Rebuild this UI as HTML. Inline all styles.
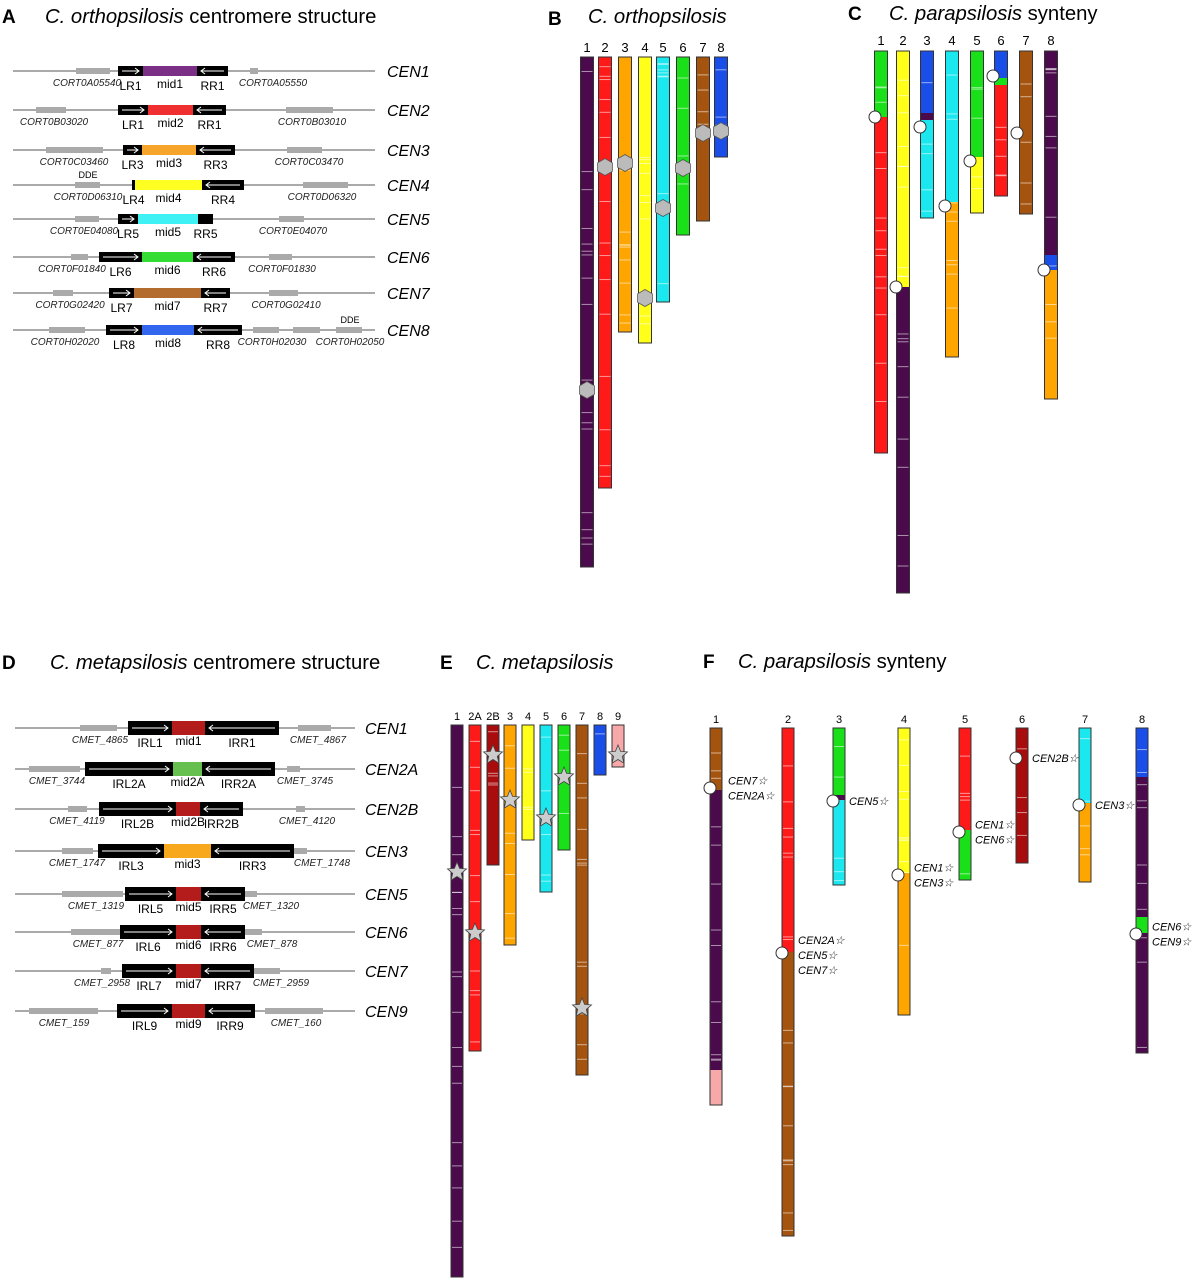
<!DOCTYPE html>
<html><head><meta charset="utf-8"><style>
body{margin:0;background:#fff}
svg{display:block;font-family:"Liberation Sans",Arial,sans-serif}
</style></head><body>
<svg id="fig" width="1199" height="1280" viewBox="0 0 1199 1280" xmlns="http://www.w3.org/2000/svg">
<g>
<text x="2" y="23" font-size="19" font-weight="bold">A</text>
<text x="45" y="23" font-size="20.3"><tspan font-style="italic">C. orthopsilosis</tspan> centromere structure</text>
<text x="548" y="25" font-size="19" font-weight="bold">B</text>
<text x="588" y="23" font-size="20.3" font-style="italic">C. orthopsilosis</text>
<text x="848" y="20" font-size="19" font-weight="bold">C</text>
<text x="889" y="20" font-size="20.3"><tspan font-style="italic">C. parapsilosis</tspan> synteny</text>
<text x="2" y="669" font-size="19" font-weight="bold">D</text>
<text x="50" y="669" font-size="20.3"><tspan font-style="italic">C. metapsilosis</tspan> centromere structure</text>
<text x="440" y="669" font-size="19" font-weight="bold">E</text>
<text x="476" y="669" font-size="20.3" font-style="italic">C. metapsilosis</text>
<text x="703" y="668" font-size="19" font-weight="bold">F</text>
<text x="738" y="668" font-size="20.3"><tspan font-style="italic">C. parapsilosis</tspan> synteny</text>
</g>
<g id="gA"></g>
<g id="gD"></g>
<g id="gB"></g>
<g id="gC"></g>
<g id="gE"></g>
<g id="gF"></g>
</svg>
<script>
const NS="http://www.w3.org/2000/svg";
function mk(tag,attrs,parent,txt){const e=document.createElementNS(NS,tag);for(const k in attrs)e.setAttribute(k,attrs[k]);if(txt!==undefined)e.textContent=txt;parent.appendChild(e);return e;}

// ---- Panel A data ----
const aY=[71,110,150,185,219,257,293,330];
const aCen=["CEN1","CEN2","CEN3","CEN4","CEN5","CEN6","CEN7","CEN8"];
const aGenes=[[[76,110,"CORT0A05540",87],[250,258,"CORT0A05550",273]],[[36,66,"CORT0B03020",54],[286,333,"CORT0B03010",312]],[[46,103,"CORT0C03460",74],[287,322,"CORT0C03470",309]],[[75,100,"CORT0D06310",88],[303,348,"CORT0D06320",322]],[[75,99,"CORT0E04080",84],[279,304,"CORT0E04070",293]],[[71,88,"CORT0F01840",72],[269,292,"CORT0F01830",282]],[[53,73,"CORT0G02420",70],[269,298,"CORT0G02410",286]],[[49,85,"CORT0H02020",65],[253,279,"CORT0H02030",272],[293,320,"",0],[336,362,"CORT0H02050",350]]];
const aBlocks=[[118,143,197,228],[118,148,193,226],[123,142,196,235],[132,135,202,244],[118,138,198,213],[99,142,193,235],[109,134,201,230],[106,142,194,242]];
const aCols=["#7b2f86","#f03030","#f7a52a","#ffff22","#3ff0f4","#33dd33","#b36b2e","#3366ee"];
const aLbl=[["LR1","mid1","RR1"],["LR1","mid2","RR1"],["LR3","mid3","RR3"],["LR4","mid4","RR4"],["LR5","mid5","RR5"],["LR6","mid6","RR6"],["LR7","mid7","RR7"],["LR8","mid8","RR8"]];
// ---- Panel D data ----
const dY=[728,769,809,851,894,932,971,1011];
const dCen=["CEN1","CEN2A","CEN2B","CEN3","CEN5","CEN6","CEN7","CEN9"];
const dGenes=[[[80,117,"CMET_4865",100],[298,331,"CMET_4867",318]],[[29,80,"CMET_3744",57],[287,300,"CMET_3745",305]],[[68,87,"CMET_4119",77],[296,305,"CMET_4120",307]],[[62,93,"CMET_1747",77],[294,307,"CMET_1748",322]],[[62,123,"CMET_1319",96],[245,257,"CMET_1320",271]],[[71,120,"CMET_877",98],[245,262,"CMET_878",272]],[[101,111,"CMET_2958",102],[254,280,"CMET_2959",281]],[[29,98,"CMET_159",64],[265,323,"CMET_160",296]]];
const dBlocks=[[128,172,205,279],[85,173,202,275],[99,176,200,243],[98,164,211,294],[125,176,201,245],[120,176,201,245],[122,176,201,254],[117,172,205,255]];
const dCols=["#b41c1c","#66c050","#b41c1c","#f7a81c","#b41c1c","#b41c1c","#b41c1c","#b41c1c"];
const dLbl=[["IRL1","mid1","IRR1"],["IRL2A","mid2A","IRR2A"],["IRL2B","mid2B","IRR2B"],["IRL3","mid3","IRR3"],["IRL5","mid5","IRR5"],["IRL6","mid6","IRR6"],["IRL7","mid7","IRR7"],["IRL9","mid9","IRR9"]];

function drawCen(g,Y,cen,genes,blocks,cols,lbl,x1,x2,cx,h){
  Y.forEach((y,i)=>{
    const r=mk('g',{},g);
    
    
    mk('line',{x1:x1,x2:x2,y1:y,y2:y,stroke:'#777','stroke-width':1.2},r);
    genes[i].forEach(gn=>{
      mk('rect',{x:gn[0],y:y-3,width:gn[1]-gn[0],height:6,fill:'#aaa'},r);
      if(gn[2])mk('text',{x:gn[3],y:y+15,'font-size':10,'font-style':'italic','text-anchor':'middle',fill:'#222'},r,gn[2]);
    });
    const b=blocks[i];
    mk('rect',{x:b[0],y:y-h/2,width:b[3]-b[0],height:h,fill:'#000'},r);
    mk('rect',{x:b[1],y:y-h/2,width:b[2]-b[1],height:h,fill:cols[i]},r);
    if(b[1]-b[0]>15)mk('path',{d:`M${b[0]+4} ${y}H${b[1]-4}m-4 -3l4 3l-4 3`,stroke:'#fff',fill:'none','stroke-width':1},r);
    if(b[3]-b[2]>15)mk('path',{d:`M${b[3]-4} ${y}H${b[2]+4}m4 -3l-4 3l4 3`,stroke:'#fff',fill:'none','stroke-width':1},r);
    mk('text',{x:(b[0]+b[1])/2,y:y+19,'font-size':12,'text-anchor':'middle'},r,lbl[i][0]);
    mk('text',{x:(b[1]+b[2])/2,y:y+17,'font-size':12,'text-anchor':'middle'},r,lbl[i][1]);
    mk('text',{x:(b[2]+b[3])/2,y:y+19,'font-size':12,'text-anchor':'middle'},r,lbl[i][2]);
    mk('text',{x:cx,y:y+6,'font-size':16,'font-style':'italic'},r,cen[i]);
  });
}
drawCen(document.getElementById('gA'),aY,aCen,aGenes,aBlocks,aCols,aLbl,13,375,387,10);
drawCen(document.getElementById('gD'),dY,dCen,dGenes,dBlocks,dCols,dLbl,15,355,365,14);
{const g=document.getElementById('gA');
mk('text',{x:88,y:178,'font-size':9,'text-anchor':'middle'},g,'DDE');
mk('text',{x:350,y:323,'font-size':9,'text-anchor':'middle'},g,'DDE');}

// ---- Chromosome data ----
const C={purple:"#4b0a4b",red:"#ff1a1a",orange:"#ffa500",yellow:"#ffff1a",cyan:"#1ae8ee",green:"#1ae01a",brown:"#a5540f",blue:"#1a4ee8",dred:"#a80c0c",pink:"#f7a8a8"};
// B
const bNames=["1","2","3","4","5","6","7","8"];
const bX=[587,605,625,645,663,683,703,721];
const bEnd=[567,488,332,343,302,235,221,157];
const bCol=["purple","red","orange","yellow","cyan","green","brown","blue"];
const bCenPos=[390,167,163,298,208,168,133,131];
// C: segments [end, color]
const cNames=["1","2","3","4","5","6","7","8"];
const cX=[881,903,927,952,977,1001,1026,1051];
const cSegs=[[[117,"green"],[453,"red"]],[[287,"yellow"],[593,"purple"]],[[113,"blue"],[120,"purple"],[218,"cyan"]],[[202,"cyan"],[357,"orange"]],[[157,"green"],[213,"yellow"]],[[78,"blue"],[85,"green"],[196,"red"]],[[214,"brown"]],[[255,"purple"],[270,"blue"],[399,"orange"]]];
const cCenPos=[117,287,127,206,161,76,133,270];
const cCenDx=[-6,-7,-7,-7,-7,-8,-9,-7];
// E
const eNames=["1","2A","2B","3","4","5","6","7","8","9"];
const eX=[457,475,493,510,528,546,564,582,600,618];
const eEnd=[1277,1051,865,945,840,892,850,1075,775,767];
const eCol=["purple","red","dred","orange","yellow","cyan","green","brown","blue","pink"];
const eCenPos=[872,933,755,800,null,818,777,1008,null,755];
// F
const fNames=["1","2","3","4","5","6","7","8"];
const fX=[716,788,839,904,965,1022,1085,1142];
const fSegs=[[[790,"brown"],[1070,"purple"],[1105,"pink"]],[[952,"red"],[1236,"brown"]],[[795,"green"],[800,"purple"],[885,"cyan"]],[[873,"yellow"],[1015,"orange"]],[[830,"red"],[880,"green"]],[[863,"dred"]],[[803,"cyan"],[882,"orange"]],[[777,"blue"],[917,"purple"],[933,"green"],[1053,"purple"]]];
const fCenPos=[788,953,801,875,832,758,805,934];
const fCenLbl=[["CEN7","CEN2A"],["CEN2A","CEN5","CEN7"],["CEN5"],["CEN1","CEN3"],["CEN1","CEN6"],["CEN2B"],["CEN3"],["CEN6","CEN9"]];
const fLblSide=[-1,1,1,1,1,1,1,1];

function stripes(g,x,w,top,bot,seed){
  let s=seed;const n=Math.floor((bot-top)/28);
  for(let k=0;k<n;k++){s=(s*9301+49297)%233280;const yy=top+6+(s/233280)*(bot-top-10);
    mk('line',{x1:x+1,x2:x+w-1,y1:yy,y2:yy,stroke:'#fff','stroke-opacity':0.55,'stroke-width':1},g);}
}
function hexagon(g,cx,cy){let p=[];for(let k=0;k<6;k++){const a=Math.PI/6+k*Math.PI/3;p.push((cx+8.5*Math.cos(a)).toFixed(1)+','+(cy+8.5*Math.sin(a)).toFixed(1));}
  const e=mk('polygon',{points:p.join(' '),fill:'#bbb',stroke:'#555','stroke-width':0.8},g);return e;}
function star(g,cx,cy){let p=[];for(let k=0;k<10;k++){const r=k%2?4.5:10,a=-Math.PI/2+k*Math.PI/5;p.push((cx+r*Math.cos(a)).toFixed(1)+','+(cy+r*Math.sin(a)).toFixed(1));}
  return mk('polygon',{points:p.join(' '),fill:'#ccc',stroke:'#444','stroke-width':0.8},g);}

function drawChr(g,names,X,top,w,segsArr,labelY,fs,seedBase){
  names.forEach((nm,i)=>{
    const cg=mk('g',{},g);
    
    
    mk('text',{x:X[i],y:labelY,'font-size':fs,'text-anchor':'middle'},cg,nm);
    let y0=top;const segs=segsArr[i];
    segs.forEach(s=>{mk('rect',{x:X[i]-w/2,y:y0,width:w,height:s[0]-y0,fill:C[s[1]]},cg);y0=s[0];});
    stripes(cg,X[i]-w/2,w,top,y0,seedBase+i*17);
    mk('rect',{x:X[i]-w/2,y:top,width:w,height:y0-top,fill:'none',stroke:'#333','stroke-width':1},cg);
  });
}
// B
{const g=document.getElementById('gB');
drawChr(g,bNames,bX,57,13,bEnd.map((e,i)=>[[e,bCol[i]]]),52,13,3);
bCenPos.forEach((p,i)=>{const h=hexagon(g,bX[i],p);});}
// C
{const g=document.getElementById('gC');
drawChr(g,cNames,cX,51,13,cSegs,45,13,7);
cCenPos.forEach((p,i)=>{const c=mk('circle',{cx:cX[i]+cCenDx[i],cy:p,r:6,fill:'#fff',stroke:'#333','stroke-width':1},g);});}
// E
{const g=document.getElementById('gE');
drawChr(g,eNames,eX,725,12,eEnd.map((e,i)=>[[e,eCol[i]]]),720,11,11);
eCenPos.forEach((p,i)=>{if(p===null)return;const s=star(g,eX[i],p);});}
// F
{const g=document.getElementById('gF');
drawChr(g,fNames,fX,728,12,fSegs,723,11,13);
fCenPos.forEach((p,i)=>{const c=mk('circle',{cx:fX[i]-6,cy:p,r:6,fill:'#fff',stroke:'#333','stroke-width':1},g);
  const L=fCenLbl[i];const n=L.length;
  L.forEach((t,k)=>{const yy=p+(k-(n-1)/2)*15+(n===3?2:0)+4;
    const tx=fLblSide[i]<0?fX[i]+12:fX[i]+10;
    const te=mk('text',{x:tx,y:yy,'font-size':11,'font-style':'italic'},g,t+'☆');
    });});}
</script>
</body></html>
